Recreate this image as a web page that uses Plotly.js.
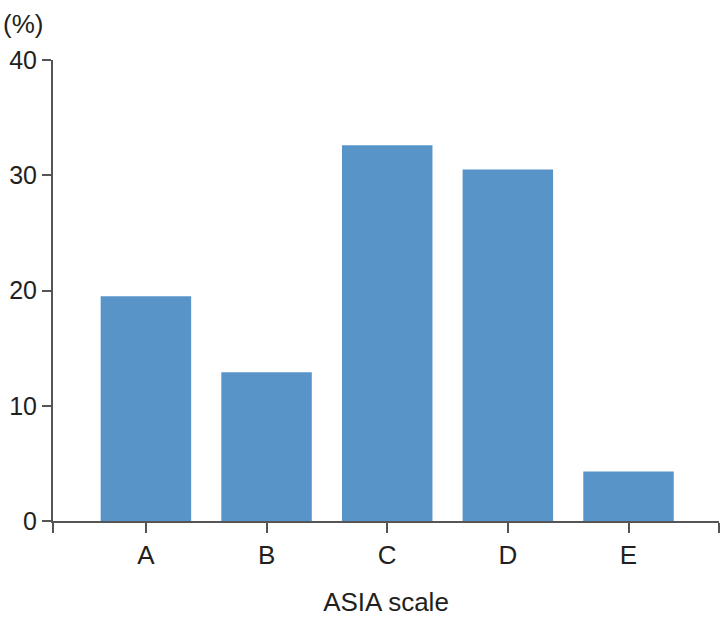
<!DOCTYPE html>
<html>
<head>
<meta charset="utf-8">
<script src="https://cdn.plot.ly/plotly-3.0.1.min.js"></script>
<style>html,body{margin:0;padding:0;background:#fff;}#chart{width:726px;height:624px;}</style>
</head>
<body>
<div id="chart"></div>
<script>
const categories = ['A', 'B', 'C', 'D', 'E'];
const percentValues = [19.5, 12.9, 32.6, 30.5, 4.3];
const yTickValues = [0, 10, 20, 30, 40];

const xPositions = categories.map((c, i) => i);
const xLeft = -0.77, xRight = 4.75;

const trace = {
  type: 'bar',
  x: xPositions,
  y: percentValues,
  width: 0.75,
  marker: {color: '#5894C8', line: {width: 0}},
  hoverinfo: 'skip'
};

const font = {family: '"Liberation Sans", Arial, Helvetica, sans-serif', color: '#231F20'};

const layout = {
  width: 726, height: 624,
  margin: {l: 53, r: 7, t: 60, b: 103},
  paper_bgcolor: '#ffffff', plot_bgcolor: '#ffffff',
  showlegend: false,
  font: font,
  xaxis: {
    range: [xLeft, xRight],
    tickvals: [xLeft].concat(xPositions, [xRight]),
    ticktext: [''].concat(categories, ['']),
    ticks: 'outside', ticklen: 10, tickwidth: 2, tickcolor: '#555',
    showline: true, linecolor: '#555', linewidth: 2,
    showgrid: false, zeroline: false,
    tickfont: {size: 26, color: '#231F20'},
    title: {text: 'ASIA scale', font: {size: 26, color: '#231F20'}, standoff: 24},
    fixedrange: true
  },
  yaxis: {
    range: [0, 40],
    tickvals: yTickValues,
    ticks: 'outside', ticklen: 9, tickwidth: 2, tickcolor: '#555',
    showline: true, linecolor: '#555', linewidth: 2,
    showgrid: false, zeroline: false,
    tickfont: {size: 25, color: '#231F20'},
    fixedrange: true
  },
  annotations: [{
    text: '(%)', xref: 'paper', yref: 'paper',
    x: -0.078, y: 1.0, xanchor: 'left', yanchor: 'bottom', yshift: 19,
    showarrow: false, font: {size: 26, color: '#231F20'}
  }]
};

Plotly.newPlot('chart', [trace], layout, {displayModeBar: false, staticPlot: true});
</script>
</body>
</html>
